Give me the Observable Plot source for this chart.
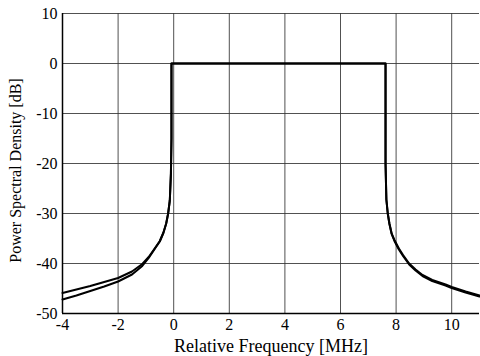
<!DOCTYPE html>
<html><head><meta charset="utf-8">
<script src="https://cdn.jsdelivr.net/npm/d3@7"></script>
<script src="https://cdn.jsdelivr.net/npm/@observablehq/plot@0.6"></script>
<style>body{margin:0;background:#fff}</style>
</head><body><div id="chart"></div>
<script>
// Trace A (upper)
const fA = [-4, -3.5, -3, -2.5, -2, -1.5, -1.13, -0.9, -0.66, -0.5, -0.37, -0.27, -0.2, -0.14, -0.1, -0.08, -0.08,
            7.62, 7.62, 7.65, 7.7, 7.76, 7.84, 7.94, 8.1, 8.25, 8.47, 8.7, 8.95, 9.3, 9.78, 10, 10.5, 11];
const pA = [-45.9, -45.2, -44.5, -43.7, -42.9, -41.6, -40.1, -38.7, -36.8, -35.5, -33.8, -32.0, -30.0, -27.4, -22.0, -15.0, 0,
            0, -20.0, -27.2, -30.0, -32.0, -34.0, -35.3, -37.0, -38.3, -40.0, -41.2, -42.3, -43.3, -44.2, -44.7, -45.6, -46.4];
// Trace B (lower, separates only on the far left tail)
const fB = [-4, -3.5, -3, -2.5, -2, -1.5, -1.13, -0.9, -0.66, -0.5, -0.37, -0.27, -0.2, -0.14, -0.1, -0.08, -0.08,
            7.62, 7.62, 7.65, 7.7, 7.76, 7.84, 7.94, 8.1, 8.25, 8.47, 8.7, 8.95, 9.3, 9.78, 10, 10.5, 11];
const pB = [-47.2, -46.4, -45.5, -44.6, -43.6, -42.2, -40.5, -38.9, -36.9, -35.6, -33.9, -32.0, -30.0, -27.4, -22.0, -15.0, 0,
            0, -20.0, -27.2, -30.0, -32.1, -34.1, -35.5, -37.2, -38.5, -40.2, -41.4, -42.5, -43.5, -44.4, -44.9, -45.8, -46.6];
const xTicks = [-4, -2, 0, 2, 4, 6, 8, 10];
const yTicks = [-50, -40, -30, -20, -10, 0, 10];
const xTitle = "Relative Frequency [MHz]";
const yTitle = "Power Spectral Density [dB]";

const A = fA.map((f, i) => ({f, p: pA[i]}));
const B = fB.map((f, i) => ({f, p: pB[i]}));
const fmt = d => String(d);
const serif = "Liberation Serif";

const chart = Plot.plot({
  width: 480, height: 356,
  marginLeft: 62, marginRight: 1, marginTop: 13, marginBottom: 43,
  style: {fontFamily: serif, fontSize: "16px", color: "#000", background: "#fff"},
  x: {domain: [-4, 11]},
  y: {domain: [-50, 10]},
  marks: [
    Plot.gridX(xTicks, {stroke: "#333", strokeOpacity: 0.85, strokeWidth: 1}),
    Plot.gridY(yTicks, {stroke: "#333", strokeOpacity: 0.85, strokeWidth: 1}),
    Plot.ruleX([-4], {stroke: "#000", strokeWidth: 1.5}),
    Plot.ruleY([-50], {stroke: "#000", strokeWidth: 1.5}),
    Plot.line(B, {x: "f", y: "p", stroke: "#000", strokeWidth: 2}),
    Plot.line(A, {x: "f", y: "p", stroke: "#000", strokeWidth: 2}),
    Plot.axisX({ticks: xTicks, tickFormat: fmt, tickSize: 0, tickPadding: 5, label: null,
                fontSize: 16, fontVariant: "normal"}),
    Plot.axisY({ticks: yTicks, tickFormat: fmt, tickSize: 0, tickPadding: 5, label: null,
                fontSize: 16, fontVariant: "normal"}),
    Plot.text([xTitle], {frameAnchor: "bottom", dy: 38, lineAnchor: "bottom", textAnchor: "middle", fontSize: 18, fill: "#000"}),
    Plot.text([yTitle], {frameAnchor: "left", rotate: -90, dx: -47, dy: 7, lineAnchor: "middle", textAnchor: "middle", fontSize: 16, fill: "#000"})
  ]
});
document.getElementById("chart").appendChild(chart);
</script>
</body></html>
